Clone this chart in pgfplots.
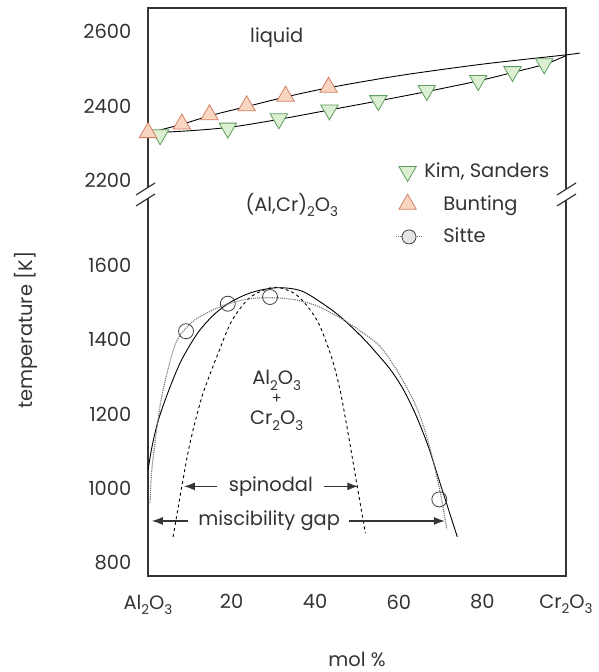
\documentclass[border=0pt]{standalone}
\usepackage{fontspec}
\setmainfont{Poppins}
\usepackage{pgfplots}
\pgfplotsset{compat=1.18}
\usetikzlibrary{arrows.meta}

\definecolor{kimfill}{HTML}{DDEFD3}
\definecolor{kimedge}{HTML}{5E9E5E}
\definecolor{buntfill}{HTML}{F8D6C2}
\definecolor{buntedge}{HTML}{D47F62}
\definecolor{framec}{HTML}{353535}
\definecolor{textc}{HTML}{333333}

% upper part of the broken axis: 2200 K is drawn at 1828
\pgfplotsset{upper/.style={y filter/.expression={y-372}}}
\newcommand{\fnt}{\fontsize{19.5}{23}\selectfont}
\newcommand{\sub}[1]{\raisebox{-0.5ex}{\fontsize{13.5}{14}\selectfont #1}}

\begin{document}
\fnt
\begin{tikzpicture}[x=1bp,y=1bp]
\begin{axis}[
    name=ax,
    scale only axis,
    width=418bp, height=568bp,
    xmin=0, xmax=100, ymin=765, ymax=2292,
    clip=false,
    axis line style={framec, line width=2.8bp},
    major tick length=0pt,
    xtick={0,20,40,60,80,100},
    xticklabels={Al\sub{2}O\sub{3},20,40,60,80,Cr\sub{2}O\sub{3}},
    ytick={800,1000,1200,1400,1600,1828,2028,2228},
    yticklabels={800,1000,1200,1400,1600,2200,2400,2600},
    ticklabel style={font=\fnt, text=textc},
    xticklabel style={yshift=-12bp},
    yticklabel style={xshift=-10bp},
    xlabel={mol \%},
    ylabel={temperature [K]},
    label style={font=\fnt, text=textc},
    xlabel style={at={(rel axis cs:0.5,-0.147)}, anchor=center},
    ylabel style={at={(rel axis cs:-0.292,0.433)}, anchor=center},
    legend style={at={(rel axis cs:0.585,0.735)}, anchor=north west, draw=none, fill=none,
        font=\fnt, text=textc, row sep=11bp,
        cells={anchor=west}},
    legend cell align=left,
]
% liquidus and solidus
\addplot[upper, black, line width=0.9bp, smooth, forget plot] coordinates {
    (0,2328) (8,2351) (15,2375) (24,2400) (33,2425) (43,2449) (60,2482) (80,2513) (100,2538) (103.3,2543)};
\addplot[upper, black, line width=0.9bp, smooth, forget plot] coordinates {
    (0,2328) (10,2334) (20,2344) (31,2364) (43,2389) (55,2414) (67,2440) (79,2468) (87,2490) (95,2513) (100,2536)};
% miscibility gap (binodal)
\addplot[black, line width=0.9bp, smooth, forget plot] coordinates {
    (0,1050) (1,1115) (2.5,1185) (5,1265) (8,1345) (12,1420) (16,1470) (20,1503) (25,1528) (31,1540)
    (37,1530) (44,1480) (48,1442) (52,1398) (55,1360) (58,1320) (61,1268) (64,1200) (67,1115) (70,1010) (74,870)};
% spinodal
\addplot[black, dashed, line width=0.9bp, smooth, forget plot] coordinates {
    (6,870) (8,1000) (10,1120) (13,1250) (17,1370) (20,1450) (24,1510) (28,1535) (31,1541)
    (35,1525) (38,1492) (41,1440) (44,1350) (46,1262) (48,1140) (50,1010) (52,880)};
% Sitte fit
\addplot[black!55, densely dotted, line width=1.1bp, smooth, forget plot] coordinates {
    (0.5,960) (1,1060) (3,1230) (5,1330) (7,1400) (10,1442) (13,1466) (18,1492) (24,1510) (30,1513)
    (35,1508) (40,1493) (45,1465) (50,1430) (55,1388) (58,1345) (61,1290) (64,1225) (66,1165) (68,1085) (70,985) (71.5,890)};
% Kim, Sanders
\addplot[upper, only marks, mark=triangle*, mark size=10bp, mark options={rotate=180, fill=kimfill, draw=kimedge, line width=0.8bp}, forget plot] coordinates {
    (2.9,2323) (19.1,2341) (31.3,2366) (43.4,2390) (55.1,2415) (66.7,2442) (79.0,2469) (87.2,2493) (94.8,2514)};
% Bunting
\addplot[upper, only marks, mark=triangle*, mark size=10bp, mark options={fill=buntfill, draw=buntedge, line width=0.8bp}, forget plot] coordinates {
    (0,2329) (8.1,2352) (14.7,2377) (23.6,2401) (32.9,2427) (43.2,2451)};
% Sitte
\addplot[only marks, mark=o, mark size=7.5bp, mark options={draw=black!75, line width=0.8bp}, forget plot] coordinates {
    (9.1,1423) (19.1,1497) (29.2,1515) (69.7,971)};

\addlegendimage{only marks, mark=triangle*, mark size=10bp, mark options={rotate=180, fill=kimfill, draw=kimedge, line width=0.8bp}}
\addlegendimage{only marks, mark=triangle*, mark size=10bp, mark options={fill=buntfill, draw=buntedge, line width=0.8bp}}
\addlegendimage{legend image code/.code={
    \draw[black!55, densely dotted, line width=1.1bp] (-0.1cm,0cm) -- (0.8cm,0cm);
    \draw[black!75, fill=black!10, line width=0.8bp] (0.35cm,0cm) circle (7bp);}}
\legend{{Kim, Sanders}, \hspace*{19bp}Bunting, \hspace*{19bp}Sitte}

% region labels
\node[text=textc] at (axis cs:30.8,2211) {liquid};
\node[text=textc] at (axis cs:34.4,1763) {(Al,Cr)\sub{2}O\sub{3}};
\node[text=textc] at (axis cs:30.8,1291) {Al\sub{2}O\sub{3}};
\node[text=textc, inner sep=0pt, font=\fontsize{15}{17}\selectfont] at (axis cs:30.8,1240) {+};
\node[text=textc] at (axis cs:30.8,1183) {Cr\sub{2}O\sub{3}};
\node[text=textc, fill=white, inner sep=1bp] at (axis cs:29.4,1006) {spinodal};
\node[text=textc, fill=white, inner sep=1bp] at (axis cs:29.0,913) {miscibility gap};
\draw[-{Latex[length=11bp,width=8bp]}, line width=1.3bp, framec] (axis cs:16.5,1006) -- (axis cs:8.6,1006);
\draw[-{Latex[length=11bp,width=8bp]}, line width=1.3bp, framec] (axis cs:42.0,1006) -- (axis cs:50.3,1006);
\draw[-{Latex[length=11bp,width=8bp]}, line width=1.3bp, framec] (axis cs:9.6,913) -- (axis cs:0.9,913);
\draw[-{Latex[length=11bp,width=8bp]}, line width=1.3bp, framec] (axis cs:48.2,913) -- (axis cs:71,913);

% axis breaks
\fill[white] ([xshift=-12bp,yshift=-1bp]axis cs:0,1792) -- ([xshift=7bp,yshift=11bp]axis cs:0,1792)
    -- ([xshift=7bp,yshift=0bp]axis cs:0,1792) -- ([xshift=-12bp,yshift=-12bp]axis cs:0,1792) -- cycle;
\draw[framec, line width=1.2bp] ([xshift=-12bp,yshift=-1bp]axis cs:0,1792) -- ([xshift=7bp,yshift=11bp]axis cs:0,1792);
\draw[framec, line width=1.2bp] ([xshift=-12bp,yshift=-12bp]axis cs:0,1792) -- ([xshift=7bp,yshift=0bp]axis cs:0,1792);
\fill[white] ([xshift=-9bp,yshift=-1bp]axis cs:100,1792) -- ([xshift=10bp,yshift=11bp]axis cs:100,1792)
    -- ([xshift=10bp,yshift=0bp]axis cs:100,1792) -- ([xshift=-9bp,yshift=-12bp]axis cs:100,1792) -- cycle;
\draw[framec, line width=1.2bp] ([xshift=-9bp,yshift=-1bp]axis cs:100,1792) -- ([xshift=10bp,yshift=11bp]axis cs:100,1792);
\draw[framec, line width=1.2bp] ([xshift=-9bp,yshift=-12bp]axis cs:100,1792) -- ([xshift=10bp,yshift=0bp]axis cs:100,1792);
\end{axis}
\pgfresetboundingbox
\path ([xshift=-148bp,yshift=-96bp]ax.south west) rectangle ([xshift=33bp,yshift=8bp]ax.north east);
\end{tikzpicture}
\end{document}
